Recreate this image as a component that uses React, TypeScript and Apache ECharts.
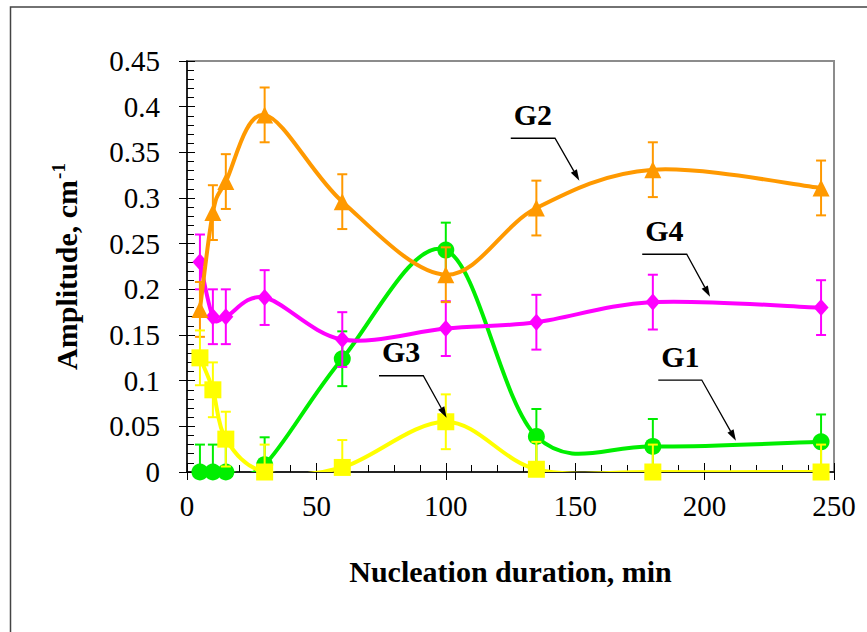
import React, { useEffect, useRef } from "react";
import * as echarts from "echarts";

const durations = [5, 10, 15, 30, 60, 100, 135, 180, 245];
const g1Values = [0, 0, 0, 0.008, 0.124, 0.243, 0.039, 0.028, 0.033];
const g2Values = [0.178, 0.284, 0.318, 0.391, 0.296, 0.216, 0.289, 0.331, 0.311];
const g3Values = [0.125, 0.09, 0.036, 0, 0.005, 0.055, 0.003, 0, 0];
const g4Values = [0.23, 0.17, 0.17, 0.191, 0.145, 0.157, 0.164, 0.186, 0.18];
const g1Errors = [0.03, 0.03, 0.03, 0.03, 0.03, 0.03, 0.03, 0.03, 0.03];
const g2Errors = [0.03, 0.03, 0.03, 0.03, 0.03, 0.03, 0.03, 0.03, 0.03];
const g3Errors = [0.03, 0.03, 0.03, 0.03, 0.03, 0.03, 0.03, 0.03, 0.03];
const g4Errors = [0.03, 0.03, 0.03, 0.03, 0.03, 0.03, 0.03, 0.03, 0.03];

// annotation callouts: label, line start, corner, arrow tip (data coords)
const annLabels = ["G2", "G4", "G3", "G1"];
const annStart = [[125.1, 0.3654], [175.9, 0.2384], [74.2, 0.1054], [182.1, 0.1007]];
const annCorner = [[142.2, 0.3654], [193.1, 0.2384], [91.3, 0.1054], [198.9, 0.1007]];
const annTip = [[151.6, 0.319], [202.1, 0.1919], [100.3, 0.0595], [212.1, 0.0343]];

const FONT = "Liberation Serif, Times New Roman, serif";

const seriesDefs = [
  { name: "G1", values: g1Values, errors: g1Errors, color: "#00ee00", symbol: "circle", size: 17 },
  { name: "G4", values: g4Values, errors: g4Errors, color: "#ff00ff", symbol: "diamond", size: [15, 17] },
  { name: "G2", values: g2Values, errors: g2Errors, color: "#ff9900", symbol: "triangle", size: [17, 17] },
  { name: "G3", values: g3Values, errors: g3Errors, color: "#ffff00", symbol: "rect", size: 17 },
];

export default function App() {
  const ref = useRef<HTMLDivElement>(null);
  useEffect(() => {
    if (!ref.current) return;
    const chart = echarts.init(ref.current, null, { renderer: "svg" });
    const series: any[] = [];
    seriesDefs.forEach((d, i) => {
      const z = 3 + i * 3;
      const n = durations.length;
      // smoothed curve segments (Catmull-Rom style, like spreadsheet smoothing)
      const segs = [];
      for (let k = 0; k < n - 1; k++) {
        const a = Math.max(0, k - 1);
        const b = Math.min(n - 1, k + 2);
        segs.push([
          durations[k], d.values[k], durations[k + 1], d.values[k + 1],
          durations[a], d.values[a], durations[b], d.values[b],
        ]);
      }
      series.push({
        type: "custom",
        name: d.name + " curve",
        z,
        clip: true,
        data: segs,
        renderItem: (params: any, api: any) => {
          const p1 = api.coord([api.value(0), api.value(1)]);
          const p2 = api.coord([api.value(2), api.value(3)]);
          const p0 = api.coord([api.value(4), api.value(5)]);
          const p3 = api.coord([api.value(6), api.value(7)]);
          const t = 1 / 6;
          return {
            type: "bezierCurve",
            shape: {
              x1: p1[0], y1: p1[1], x2: p2[0], y2: p2[1],
              cpx1: p1[0] + (p2[0] - p0[0]) * t, cpy1: p1[1] + (p2[1] - p0[1]) * t,
              cpx2: p2[0] - (p3[0] - p1[0]) * t, cpy2: p2[1] - (p3[1] - p1[1]) * t,
            },
            style: { stroke: d.color, lineWidth: 4, fill: null, lineCap: "round" },
          };
        },
      });
      series.push({
        type: "custom",
        name: d.name + " err",
        z: z + 1,
        clip: true,
        data: durations.map((x, k) => [x, Math.max(0, d.values[k] - d.errors[k]), d.values[k] + d.errors[k]]),
        renderItem: (params: any, api: any) => {
          const x = api.value(0);
          const p1 = api.coord([x, api.value(1)]);
          const p2 = api.coord([x, api.value(2)]);
          const style = { stroke: d.color, lineWidth: 2 };
          return {
            type: "group",
            children: [
              { type: "line", shape: { x1: p1[0], y1: p1[1], x2: p2[0], y2: p2[1] }, style },
              { type: "line", shape: { x1: p2[0] - 5, y1: p2[1], x2: p2[0] + 5, y2: p2[1] }, style },
              { type: "line", shape: { x1: p1[0] - 5, y1: p1[1], x2: p1[0] + 5, y2: p1[1] }, style },
            ],
          };
        },
      });
      series.push({
        type: "scatter",
        name: d.name,
        z: z + 2,
        data: durations.map((x, k) => [x, d.values[k]]),
        symbol: d.symbol,
        symbolSize: d.size,
        itemStyle: { color: d.color, borderWidth: 0, opacity: 1 },
        emphasis: { disabled: true },
      });
    });
    series.push({
      type: "custom",
      name: "annotations",
      z: 30,
      clip: false,
      data: annLabels.map((l, i) => [annStart[i][0], annStart[i][1], annCorner[i][0], annTip[i][0], annTip[i][1], i]),
      renderItem: (params: any, api: any) => {
        const i = api.value(5);
        const s = api.coord([api.value(0), api.value(1)]);
        const c = api.coord([api.value(2), api.value(1)]);
        const t = api.coord([api.value(3), api.value(4)]);
        const ang = Math.atan2(t[1] - c[1], t[0] - c[0]);
        const L = 11, W = 3.5;
        const bx = t[0] - L * Math.cos(ang), by = t[1] - L * Math.sin(ang);
        const nx = -Math.sin(ang) * W, ny = Math.cos(ang) * W;
        return {
          type: "group",
          children: [
            { type: "polyline", shape: { points: [s, c, [bx, by]] }, style: { stroke: "#000", lineWidth: 1.3, fill: null } },
            { type: "polygon", shape: { points: [t, [bx + nx, by + ny], [bx - nx, by - ny]] }, style: { fill: "#000" } },
            {
              type: "text",
              x: s[0] + 3,
              y: s[1] - 9,
              style: { text: annLabels[i], fontFamily: FONT, fontWeight: "bold", fontSize: 30, fill: "#000", align: "left", verticalAlign: "bottom" },
            },
          ],
        };
      },
    });

    const baseX = { type: "value", min: 0, max: 250, interval: 50, gridIndex: 0 };
    const baseY = { type: "value", min: 0, max: 0.45, interval: 0.05, gridIndex: 0 };
    chart.setOption({
      animation: false,
      backgroundColor: "#fff",
      textStyle: { fontFamily: FONT, color: "#000" },
      grid: { left: 187, right: 33, top: 61, bottom: 160, show: true, borderColor: "#8c8c8c", borderWidth: 2, backgroundColor: "transparent" },
      graphic: [
        { type: "rect", shape: { x: 10.5, y: 7, width: 900, height: 700 }, style: { fill: null, stroke: "#444", lineWidth: 1.5 }, z: 100, silent: true },
      ],
      xAxis: [
        {
          ...baseX,
          position: "bottom",
          axisLine: { show: true, onZero: false, lineStyle: { color: "#000", width: 1.5 } },
          axisTick: { show: true, inside: true, length: 9, lineStyle: { color: "#000", width: 1 } },
          minorTick: { show: true, splitNumber: 5, length: 7, lineStyle: { color: "#000", width: 1 } },
          splitLine: { show: false },
          axisLabel: { fontSize: 29, fontFamily: FONT, color: "#000", margin: 19 },
          name: "Nucleation duration, min",
          nameLocation: "middle",
          nameGap: 99,
          nameTextStyle: { fontSize: 30, fontWeight: "bold", fontFamily: FONT, color: "#000", verticalAlign: "middle" },
        },
        {
          ...baseX,
          position: "bottom",
          axisLine: { show: false },
          axisTick: { show: true, inside: false, length: 8, lineStyle: { color: "#000", width: 1 } },
          axisLabel: { show: false },
          splitLine: { show: false },
        },
      ],
      yAxis: [
        {
          ...baseY,
          position: "left",
          axisLine: { show: true, onZero: false, lineStyle: { color: "#000", width: 1.5 } },
          axisTick: { show: true, inside: true, length: 8, lineStyle: { color: "#000", width: 1 } },
          minorTick: { show: true, splitNumber: 5, length: 7, lineStyle: { color: "#000", width: 1 } },
          splitLine: { show: false },
          axisLabel: { fontSize: 29, fontFamily: FONT, color: "#000", margin: 27 },
          name: "{a|Amplitude, cm}{s|-1}",
          nameLocation: "middle",
          nameGap: 121,
          nameTextStyle: {
            fontFamily: FONT,
            verticalAlign: "middle",
            rich: {
              a: { fontSize: 30, fontWeight: "bold", fontFamily: FONT, color: "#000", lineHeight: 34 },
              s: { fontSize: 19, fontWeight: "bold", fontFamily: FONT, color: "#000", lineHeight: 34, verticalAlign: "top", padding: [0, 0, 0, 1] },
            },
          },
        },
        {
          ...baseY,
          position: "left",
          axisLine: { show: false },
          axisTick: { show: true, inside: false, length: 8, lineStyle: { color: "#000", width: 1 } },
          axisLabel: { show: false },
          splitLine: { show: false },
        },
      ],
      series,
    });
    return () => chart.dispose();
  }, []);
  return <div ref={ref} style={{ position: "absolute", left: 0, top: 0, width: 867, height: 632 }} />;
}
